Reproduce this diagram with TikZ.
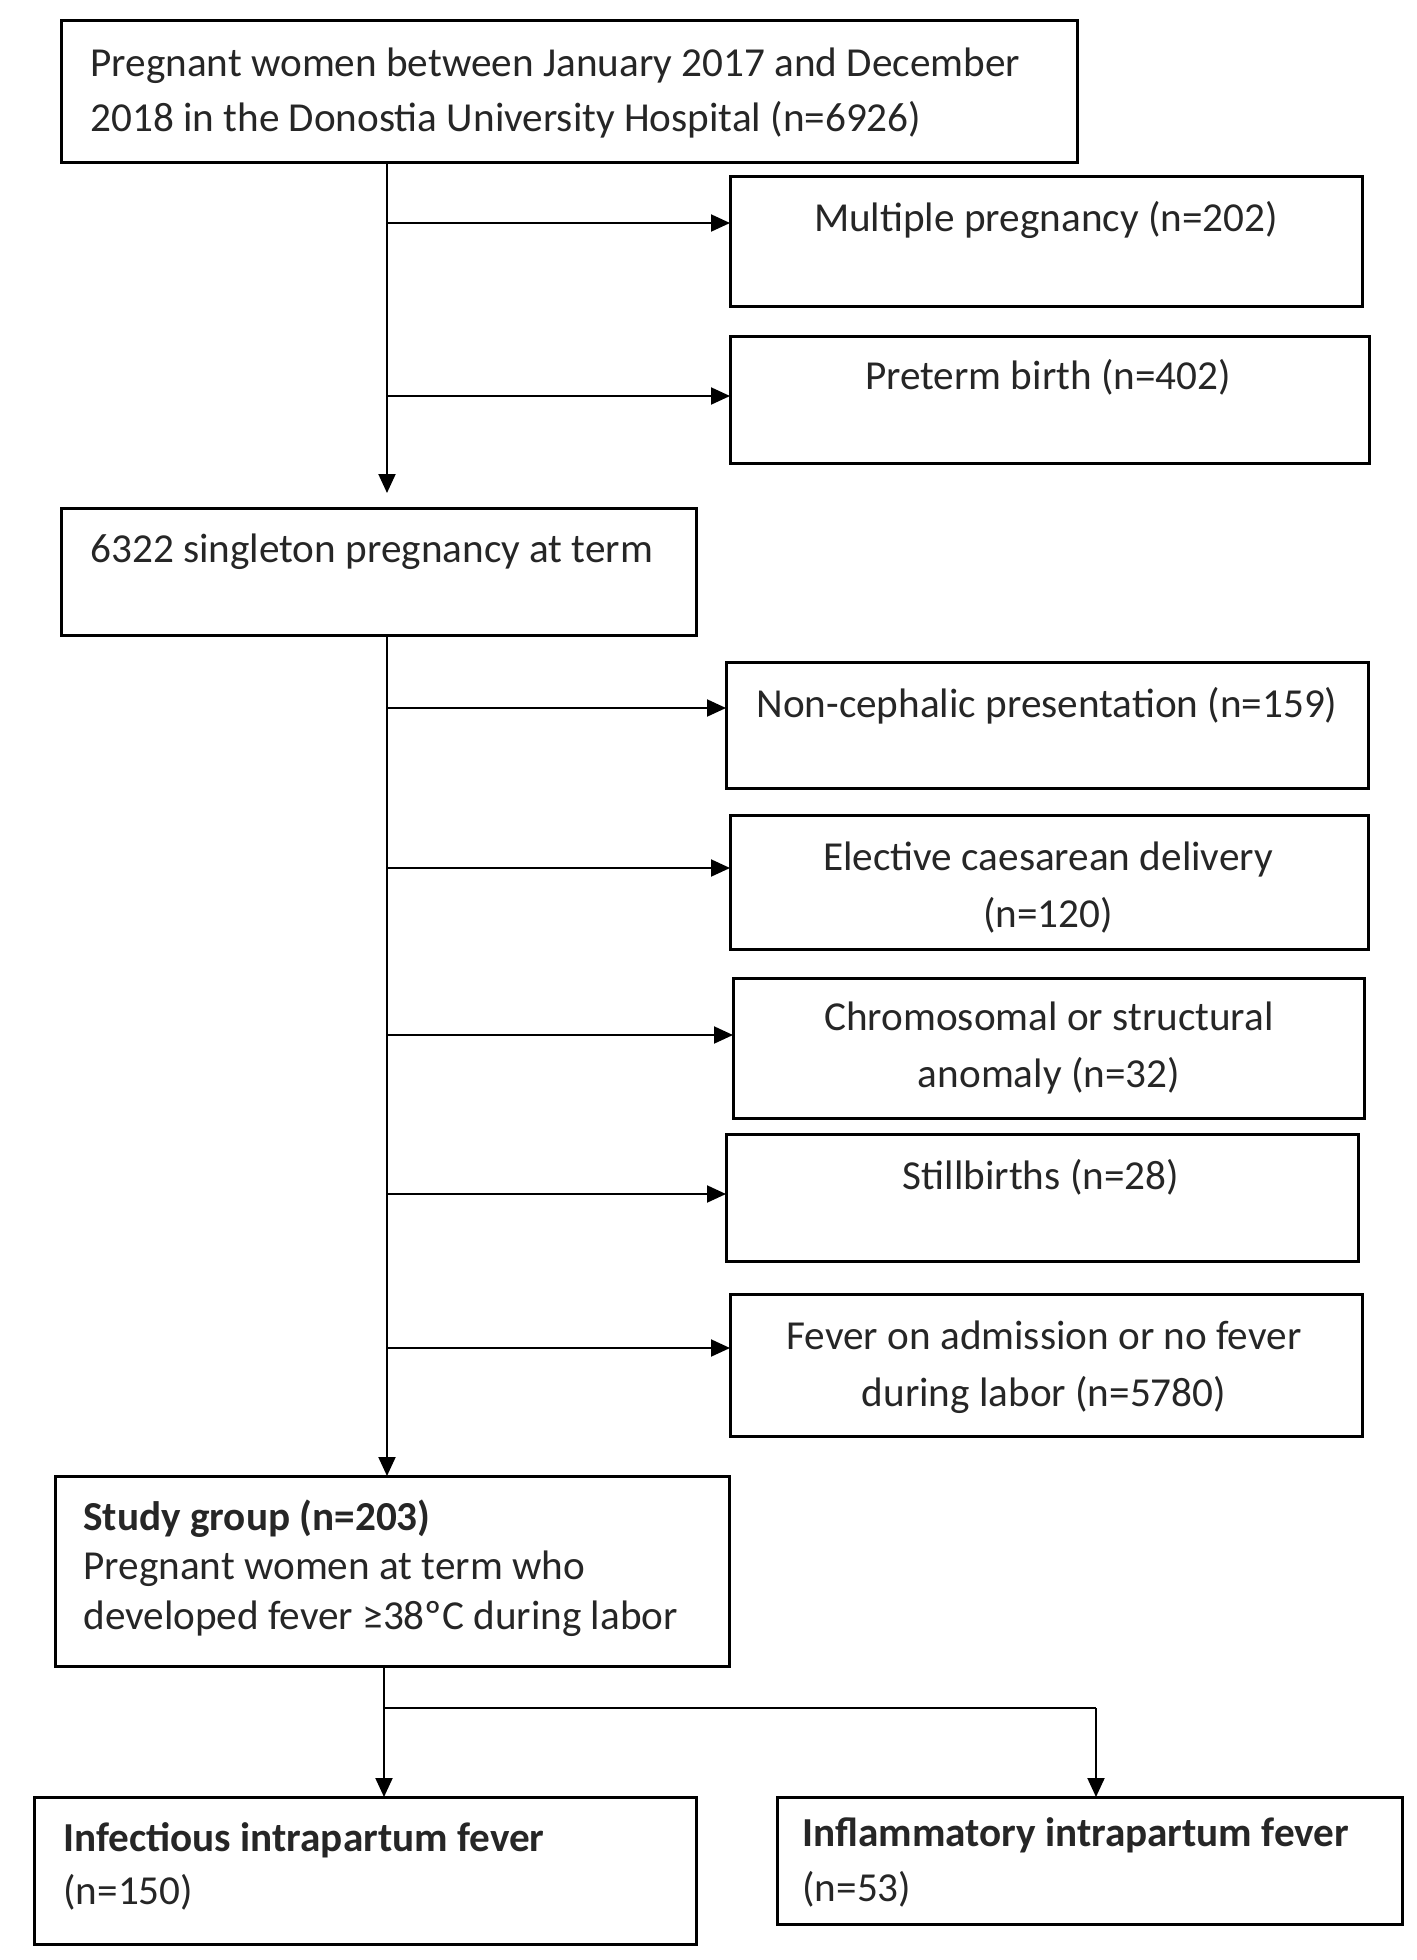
\documentclass[tikz,border=0pt]{standalone}
\usepackage{fontspec}
\setmainfont{Carlito}
\usetikzlibrary{arrows.meta}
\begin{document}
\begin{tikzpicture}[x=0.5pt,y=-0.5pt,
  box/.style={draw, line width=1.5pt, rectangle, inner sep=0pt, outer sep=0pt},
  arr/.style={line width=1pt, -{Triangle[length=9.5pt,width=8.5pt]}},
  ln/.style={line width=1pt},
  txt/.style={inner sep=0pt, text=black!85, font=\fontsize{20.6pt}{24pt}\selectfont},
  tl/.style={txt, anchor=base west},
  tc/.style={txt, anchor=base},
  tb/.style={txt, anchor=base west, font=\fontsize{20.6pt}{24pt}\selectfont\bfseries}
]
\fill[white] (0,0) rectangle (1417,1960);
\useasboundingbox (0,0) rectangle (1417,1960);

% boxes
\node[box, minimum width=508pt, minimum height=71pt] (top) at (569,91) {};
\node[box, minimum width=316pt, minimum height=65pt] (multi) at (1046,241) {};
\node[box, minimum width=319.5pt, minimum height=63.5pt] (preterm) at (1049.5,399.5) {};
\node[box, minimum width=317.5pt, minimum height=63.5pt] (single) at (378.5,571.5) {};
\node[box, minimum width=321pt, minimum height=63pt] (noncep) at (1047,725) {};
\node[box, minimum width=319pt, minimum height=67pt] (elect) at (1049,882) {};
\node[box, minimum width=315.5pt, minimum height=70pt] (chrom) at (1048.5,1048) {};
\node[box, minimum width=316pt, minimum height=63.5pt] (still) at (1042,1197.5) {};
\node[box, minimum width=316pt, minimum height=71pt] (fever) at (1046,1365) {};
\node[box, minimum width=337pt, minimum height=95pt] (study) at (392,1571) {};
\node[box, minimum width=331pt, minimum height=73.5pt] (infect) at (365,1870.5) {};
\node[box, minimum width=312.5pt, minimum height=63.5pt] (inflam) at (1089.5,1860.5) {};

% texts
\node[tl] (topA) at (90,76) {Pregnant women between January 2017 and December};
\node[tl] (topB) at (90,131) {2018 in the Donostia University Hospital (n=6926)};
\node[tc] (multiT) at (1046,231) {Multiple pregnancy (n=202)};
\node[tc] (pretermT) at (1048,389) {Preterm birth (n=402)};
\node[tl] (singleT) at (90,562) {6322 singleton pregnancy at term};
\node[tc] (noncepT) at (1047,717) {Non-cephalic presentation (n=159)};
\node[tc] (electA) at (1048,870) {Elective caesarean delivery};
\node[tc] (electB) at (1048,927) {(n=120)};
\node[tc] (chromA) at (1049,1030) {Chromosomal or structural};
\node[tc] (chromB) at (1049,1087) {anomaly (n=32)};
\node[tc] (stillT) at (1041,1189) {Stillbirths (n=28)};
\node[tc] (feverA) at (1044,1349) {Fever on admission or no fever};
\node[tc] (feverB) at (1044,1406) {during labor (n=5780)};
\node[tb] (studyA) at (83,1530) {Study group (n=203)};
\node[tl] (studyB) at (83,1579) {Pregnant women at term who};
\node[tl] (studyC) at (83,1629) {developed fever ≥38ºC during labor};
\node[tb] (infectA) at (63,1851) {Infectious intrapartum fever};
\node[tl] (infectB) at (63,1904) {(n=150)};
\node[tb] (inflamA) at (802,1846) {Inflammatory intrapartum fever};
\node[tl] (inflamB) at (802,1901) {(n=53)};

% trunk coordinates
\coordinate (b1) at (387,223);
\coordinate (b2) at (387,396);
\coordinate (b3) at (387,708);
\coordinate (b4) at (387,868);
\coordinate (b5) at (387,1035);
\coordinate (b6) at (387,1194);
\coordinate (b7) at (387,1348);

\draw[arr, shorten >=7.5pt] (top.south -| b1) -- (single.north -| b1);
\draw[arr] (single.south -| b3) -- (study.north -| b3);

\draw[arr] (b1) -- (b1 -| multi.west);
\draw[arr] (b2) -- (b2 -| preterm.west);
\draw[arr] (b3) -- (b3 -| noncep.west);
\draw[arr] (b4) -- (b4 -| elect.west);
\draw[arr] (b5) -- (b5 -| chrom.west);
\draw[arr] (b6) -- (b6 -| still.west);
\draw[arr] (b7) -- (b7 -| fever.west);

% split
\coordinate (sp) at (384,1708);
\coordinate (sr) at (1096,1708);
\draw[ln] (study.south -| sp) -- (sp) -- (sr);
\draw[arr] (sp) -- (sp |- infect.north);
\draw[arr] (sr) -- (sr |- inflam.north);
\end{tikzpicture}
\end{document}
